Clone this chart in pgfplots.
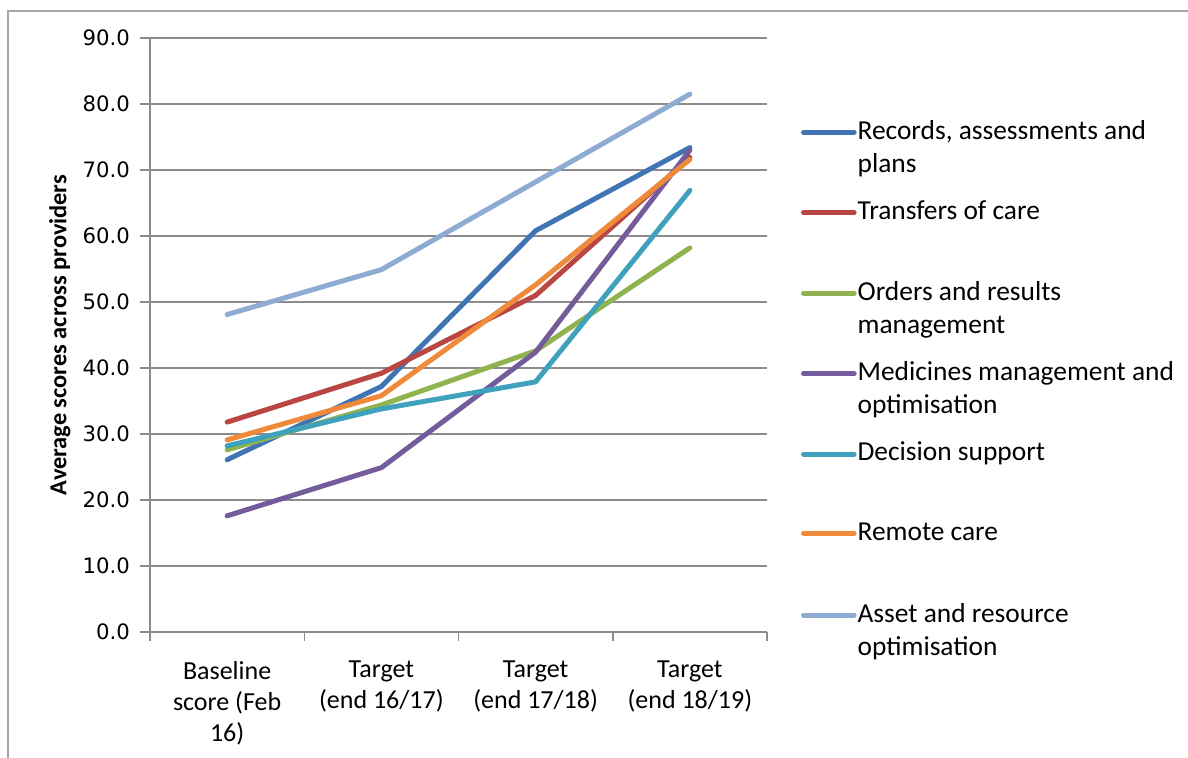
\documentclass[border=0pt]{standalone}
\usepackage{pgfplots}
\usepackage{pgfplotstable}
\pgfplotsset{compat=1.18}
\usepackage{fontspec}
\setmainfont{Carlito}
\newfontfamily\tickfont{DejaVu Sans}

\definecolor{cRec}{HTML}{4174B3}
\definecolor{cTra}{HTML}{BA4643}
\definecolor{cOrd}{HTML}{8FB34E}
\definecolor{cMed}{HTML}{745B9C}
\definecolor{cDec}{HTML}{40A1BD}
\definecolor{cRem}{HTML}{EE8A3A}
\definecolor{cAss}{HTML}{8EABD4}
\definecolor{cGrid}{HTML}{8C8C8C}
\definecolor{cFrame}{HTML}{A6A6A6}

\pgfplotstableread{
x rec tra ord med dec rem ass
0 26.1 31.8 27.6 17.6 28.2 29.1 48.1
1 37.2 39.2 34.4 24.9 33.8 35.8 54.9
2 60.8 51.0 42.6 42.4 37.9 52.6 68.2
3 73.4 71.9 58.2 73.0 66.9 71.6 81.5
}\datatable

\newcommand{\LE}[1]{\parbox[t][40.25pt][t]{175pt}{\raggedright #1}}

\begin{document}
\begin{tikzpicture}
\begin{axis}[
  at={(75pt,63pt)}, anchor=south west,
  scale only axis, width=308.5pt, height=297pt,
  xmin=-0.5, xmax=3.5, ymin=0, ymax=90,
  xtick={0,1,2,3},
  xticklabels={{Baseline\\score (Feb\\16)},{Target\\(end 16/17)},{Target\\(end 17/18)},{Target\\(end 18/19)}},
  minor xtick={-0.5,0.5,1.5,2.5,3.5},
  major x tick style={draw=none},
  minor tick length=4.4pt,
  ytick={0,10,...,90},
  major tick length=5pt,
  tick align=outside,
  tick style={cGrid, line width=0.75pt},
  axis x line*=bottom, axis y line*=left,
  axis line style={cGrid, line width=0.75pt, -},
  ymajorgrids, grid style={cGrid, line width=0.75pt},
  yticklabel style={font=\tickfont\fontsize{10.6}{12}\selectfont, xshift=-1.5pt},
  /pgf/number format/.cd, fixed, fixed zerofill, precision=1, assume math mode=true,
  /pgfplots/.cd,
  xticklabel style={align=center, font=\fontsize{13}{15.5}\selectfont, yshift=-6pt},
  ylabel={Average scores across providers},
  ylabel style={at={(axis description cs:-0.146,0.5)}, anchor=center, font=\bfseries\fontsize{12.2}{14}\selectfont},
  legend style={at={(axis description cs:1.0545,0.8626)}, anchor=north west, draw=none, fill=none,
    inner sep=0pt, row sep=0pt, column sep=0.5pt,
    nodes={inner sep=0pt, text depth=},
    cells={anchor=base west},
    font=\fontsize{13.7}{16.5}\selectfont},
  legend image code/.code={\draw[#1, line cap=round] (1.2pt,3.4pt) -- (26.5pt,3.4pt);},
  every axis plot/.append style={line width=2.5pt, line cap=round, line join=round, no markers},
  clip=false,
]
\addplot[cRec] table[x=x,y=rec]{\datatable};
\addlegendentry{\LE{Records, assessments and\\plans}}
\addplot[cTra] table[x=x,y=tra]{\datatable};
\addlegendentry{\LE{Transfers of care}}
\addplot[cOrd] table[x=x,y=ord]{\datatable};
\addlegendentry{\LE{Orders and results\\management}}
\addplot[cMed] table[x=x,y=med]{\datatable};
\addlegendentry{\LE{Medicines management and\\optimisation}}
\addplot[cDec] table[x=x,y=dec]{\datatable};
\addlegendentry{\LE{Decision support}}
\addplot[cRem] table[x=x,y=rem]{\datatable};
\addlegendentry{\LE{Remote care}}
\addplot[cAss] table[x=x,y=ass]{\datatable};
\addlegendentry{\LE{Asset and resource\\optimisation}}
\end{axis}
\draw[cFrame, line width=1pt] (4pt,0pt) -- (4pt,373.5pt) -- (600pt,373.5pt);
\pgfresetboundingbox
\useasboundingbox (0,0) rectangle (594pt,379pt);
\end{tikzpicture}
\end{document}
